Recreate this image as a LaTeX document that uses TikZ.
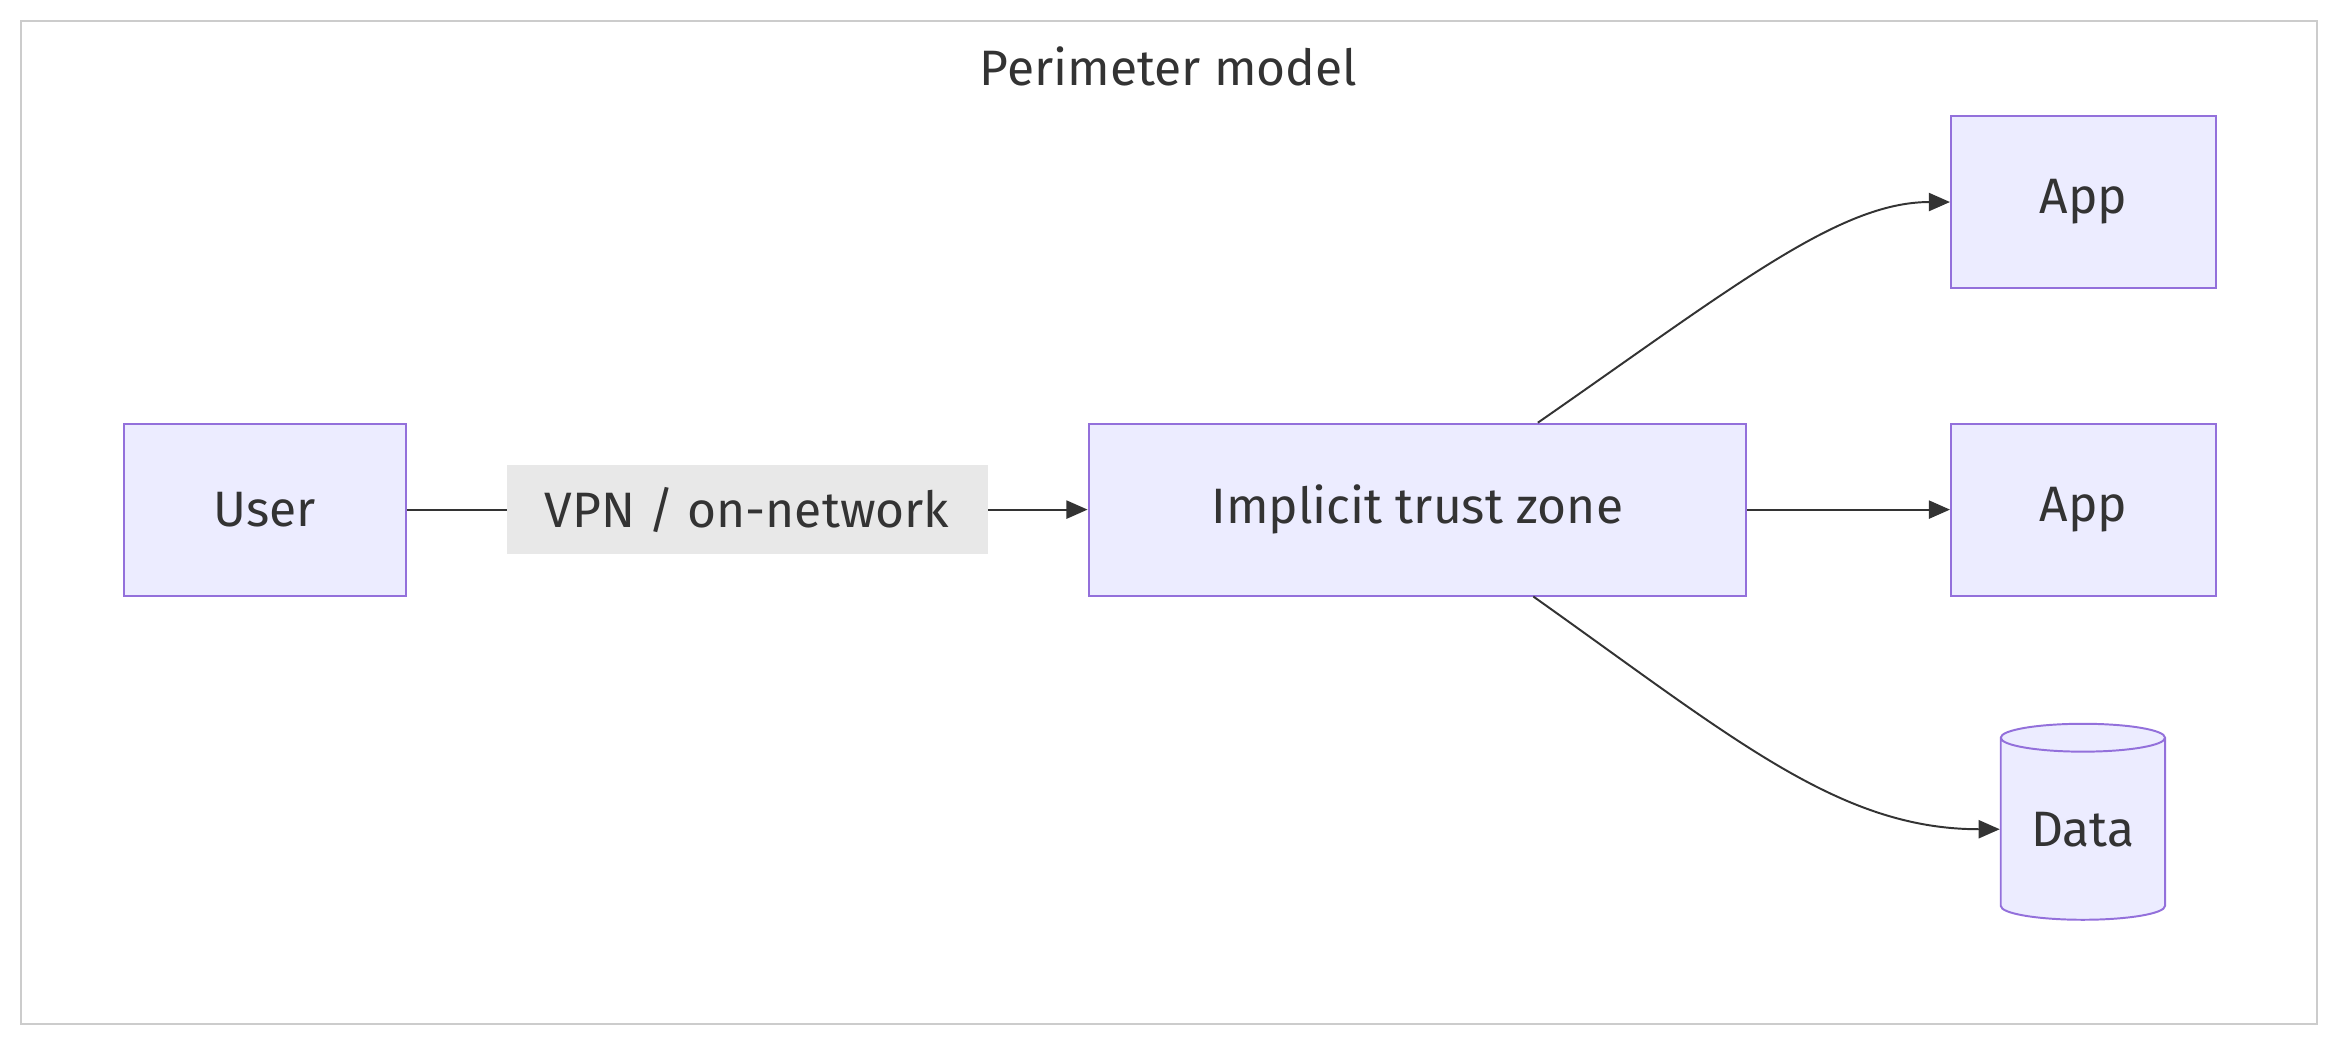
\documentclass[tikz,border=0pt]{standalone}
\usepackage{fontspec}
\setmainfont{Fira Sans}
\usetikzlibrary{arrows.meta,shapes.geometric}
\definecolor{boxfill}{HTML}{ECECFF}
\definecolor{boxline}{HTML}{9370DB}
\definecolor{ink}{HTML}{333333}
\definecolor{labelbg}{HTML}{E8E8E8}
\tikzset{
  box/.style={draw=boxline, fill=boxfill, line width=1.3pt, text=ink, font=\fontsize{33}{36}\selectfont, inner sep=0pt},
  link/.style={draw=ink, line width=1.3pt, -{Triangle[length=14pt,width=12pt]}},
  edge-label/.style={fill=labelbg, text=ink, font=\fontsize{33}{36}\selectfont, inner sep=0pt, minimum width=319pt, minimum height=59pt}
}
\begin{document}
\begin{tikzpicture}[x=1pt,y=-1pt]
  \useasboundingbox (0,0) rectangle (1560,698);
  \draw[draw=black!20, line width=1.3pt] (14,14) rectangle (1537,679);
  \node[text=ink, font=\fontsize{33}{36}\selectfont] (title) at (775,44) {Perimeter model};

  % boxes
  \node[box, minimum width=187pt, minimum height=114pt] (user) at (175.5,338) {User};
  \node[box, minimum width=436pt, minimum height=114pt] (trust) at (940,338) {Implicit trust zone};
  \node[box, minimum width=176pt, minimum height=114pt] (app1) at (1382,134) {App};
  \node[box, minimum width=176pt, minimum height=114pt] (app2) at (1382,338) {App};
  \node[box, cylinder, shape border rotate=90, shape aspect=0.27, minimum width=109pt, minimum height=130pt] (data) at (1381.5,550) {Data};

  % connectors
  \draw[link] (user) -- node[edge-label] (vpn) {VPN / on-network} (trust);
  \draw[link] (trust) -- (app2);
  \draw[link] ([xshift=80pt]trust.north) .. controls (1150,190) and (1220,134) .. (app1.west);
  \draw[link] ([xshift=77pt]trust.south) .. controls (1150,490) and (1220,550) .. (data.west);
\end{tikzpicture}
\end{document}
